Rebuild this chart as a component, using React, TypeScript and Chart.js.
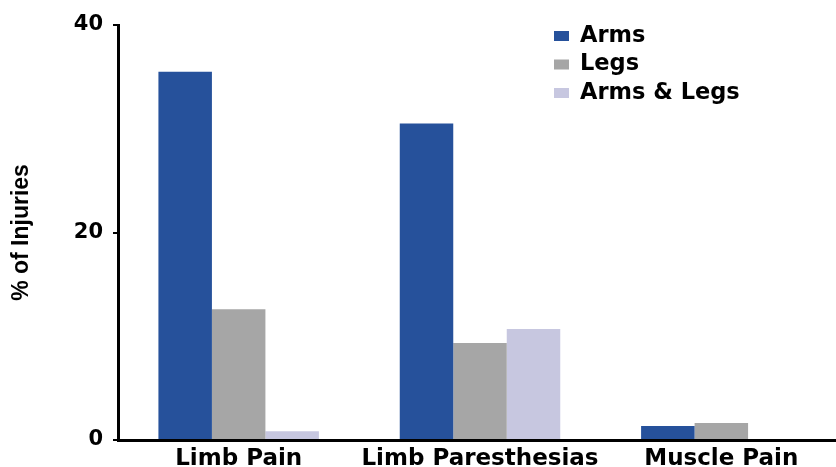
import React, { useEffect, useRef } from "react";
import { Chart, registerables } from "chart.js";

Chart.register(...registerables);

const categories = ["Limb Pain", "Limb Paresthesias", "Muscle Pain"];
const seriesNames = ["Arms", "Legs", "Arms & Legs"];
const armsValues = [35.5, 30.5, 1.35];
const legsValues = [12.6, 9.35, 1.65];
const armsLegsValues = [0.85, 10.7, 0];
const yTicks = [0, 20, 40];
const colors = ["#26519b", "#a6a6a6", "#c7c7e0"];

const FONT = "'DejaVu Sans', sans-serif";

const legendPlugin = {
  id: "customLegend",
  afterDraw(chart: any) {
    const ctx = chart.ctx;
    ctx.save();
    ctx.font = `bold 22.5px ${FONT}`;
    ctx.textBaseline = "middle";
    ctx.textAlign = "left";
    chart.data.datasets.forEach((ds: any, i: number) => {
      const y = 36 + i * 28.5;
      ctx.fillStyle = ds.backgroundColor;
      ctx.fillRect(554, y - 5, 15, 10);
      ctx.fillStyle = "#000";
      ctx.fillText(ds.label, 580, y);
    });
    ctx.restore();
  },
};

export default function App() {
  const ref = useRef<HTMLCanvasElement | null>(null);
  useEffect(() => {
    if (!ref.current) return;
    const chart = new Chart(ref.current, {
      type: "bar",
      data: {
        labels: categories,
        datasets: [armsValues, legsValues, armsLegsValues].map((vals, i) => ({
          label: seriesNames[i],
          data: vals,
          backgroundColor: colors[i],
          borderWidth: 0,
          categoryPercentage: 0.665,
          barPercentage: 1,
        })),
      },
      options: {
        animation: false,
        responsive: false,
        maintainAspectRatio: false,
        layout: { padding: { top: 25, left: 0, right: 0, bottom: 0 } },
        plugins: { legend: { display: false }, tooltip: { enabled: false } },
        scales: {
          x: {
            grid: { display: false, drawTicks: false },
            border: { display: true, color: "#000", width: 3 },
            ticks: {
              color: "#000",
              font: { family: FONT, size: 23, weight: "bold" },
              padding: 5,
              maxRotation: 0,
              minRotation: 0,
              autoSkip: false,
            },
            afterFit(scale: any) {
              scale.height = 27;
            },
          },
          y: {
            min: 0,
            max: 40,
            afterBuildTicks(scale: any) {
              scale.ticks = yTicks.map((v) => ({ value: v }));
            },
            grid: { drawOnChartArea: false, color: "#000", tickLength: 5, lineWidth: 2 },
            border: { display: true, color: "#000", width: 3 },
            ticks: {
              color: "#000",
              font: { family: FONT, size: 21, weight: "bold" },
              padding: 10,
            },
            title: {
              display: true,
              text: "% of Injuries",
              color: "#000",
              font: { family: "'Liberation Sans', Arial, sans-serif", size: 23, weight: "bold" },
              padding: { top: 8, bottom: 0 },
            },
            afterFit(scale: any) {
              scale.width = 118;
            },
          },
        },
      },
      plugins: [legendPlugin],
    });
    return () => chart.destroy();
  }, []);
  return (
    <div style={{ position: "fixed", left: 0, top: 0, width: 836, height: 467, overflow: "hidden", background: "#fff" }}>
      <canvas ref={ref} width={842} height={467} style={{ width: 842, height: 467, display: "block" }} />
    </div>
  );
}
